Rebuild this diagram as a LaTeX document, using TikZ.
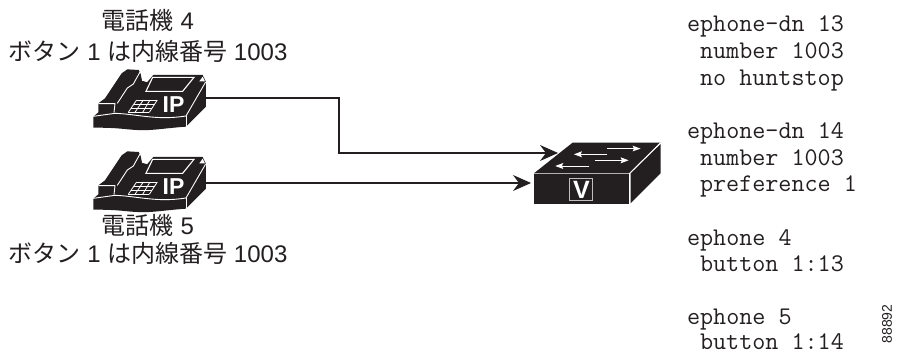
\documentclass[tikz,border=0pt]{standalone}
\usepackage{fontspec}
\setmainfont{Liberation Sans}
\newfontfamily\jpfont{Noto Sans CJK JP}
\usetikzlibrary{arrows.meta}
\definecolor{ink}{HTML}{231F20}
\newcommand{\jp}[1]{{\jpfont #1}}
\tikzset{
  every node/.style={inner sep=0pt,outer sep=0pt},
  lbl/.style={font=\fontsize{24}{26}\selectfont,text=ink,anchor=base},
  cfg/.style={font=\ttfamily\addfontfeature{FakeBold=0.35}\fontsize{25.4}{27}\selectfont,text=ink,anchor=base west},
  wire/.style={draw=ink,line width=1.1pt,-{Stealth[length=18pt,width=16pt,inset=6pt]}},
  wl/.style={draw=white,line width=.8pt},
  phone/.pic={
    \begin{scope}[x=.3333pt,y=-.3333pt]
      % silhouette
      \fill[ink] (160,170) -- (175,157) -- (175,130) -- (195,115) -- (245,40) -- (262,28) -- (296,30) -- (302,42) -- (306,62) -- (322,66) -- (340,45) -- (488,45) -- (498,66) -- (498,140) -- (438,200) .. controls (370,205) and (330,213) .. (290,210) .. controls (250,208) and (240,203) .. (160,203) -- cycle;
      % body edges
      \draw[white,line width=.9pt] (160,169) -- (225,160) .. controls (290,162) and (350,182) .. (438,168) -- (497,66);
      \draw[white,line width=.9pt] (438,168) -- (438,200);
      % cradle notches
      \fill[white] (306,62) -- (318,48) -- (322,66) -- cycle;
      \fill[white] (478,64) -- (488,50) -- (495,64) -- cycle;
      % handset
      \draw[white,line width=.9pt] (175,131) -- (225,131) -- (222,158);
      \draw[white,line width=.9pt] (232,130) -- (262,84) -- (280,72) -- (300,36);
      % screen
      \fill[ink,draw=white,line width=1.1pt] (338,52) -- (462,52) -- (428,94) -- (318,94) -- cycle;
      % keypad
      \draw[wl] (290,120) -- (352,120);
      \draw[wl] (282,132) -- (344,132);
      \draw[wl] (274,145) -- (336,145);
      \draw[wl] (265,157) -- (328,157);
      \draw[wl] (290,120) -- (265,157); \draw[wl] (310,120) -- (285,157); \draw[wl] (330,120) -- (308,157); \draw[wl] (352,120) -- (328,157);
    \end{scope}
    \node[font=\fontsize{23}{23}\selectfont\bfseries,text=white,anchor=base] at (133.5,52.5) {IP};
  }
}
\begin{document}
\begin{tikzpicture}[x=1pt,y=-1pt]
\useasboundingbox (0,0) rectangle (897,353);
% labels
\node[lbl] (t1) at (148,30) {\jp{電話機} 4};
\node[lbl] (t2) at (148,60) {\jp{ボタン} 1 \jp{は内線番号} 1003};
\node[lbl] (t3) at (148,234) {\jp{電話機} 5};
\node[lbl] (t4) at (148,262) {\jp{ボタン} 1 \jp{は内線番号} 1003};
% phones
\pic (pa) at (40,60) {phone};
\pic (pb) at (40,142) {phone};
\coordinate (porta) at (206,98);
\coordinate (portb) at (206,183);
% switch
\begin{scope}[x=.3333pt,y=-.3333pt,shift={(500*3,120*3)}]
  \fill[ink] (102,160) -- (218,68) -- (482,68) -- (388,160) -- cycle;
  \fill[ink] (102,161) rectangle (388,251);
  \fill[ink] (392,160) -- (482,72) -- (482,160) -- (392,250) -- cycle;
  \draw[white,line width=.8pt] (389,160) -- (482,68);
  \draw[white,line width=.8pt] (389,160) -- (389,251);
  \foreach \xa/\xb/\yy in {322/405/86, 322/225/103, 285/368/121, 268/170/138}{
    \draw[white,line width=.9pt] (\xa,\yy) -- (\xb,\yy);
  }
  \fill[white] (422,86) -- (398,77) -- (402,86) -- (398,94) -- cycle;
  \fill[white] (222,103) -- (246,94) -- (242,103) -- (246,112) -- cycle;
  \fill[white] (386,121) -- (362,112) -- (366,121) -- (362,130) -- cycle;
  \fill[white] (166,138) -- (190,129) -- (186,138) -- (190,147) -- cycle;
  \draw[lightgray,line width=1pt] (208,175) rectangle (278,243);
\end{scope}
\coordinate (vcenter) at (581.5,190);
\node[font=\fontsize{25}{25}\selectfont\bfseries,text=white,anchor=center] (vlabel) at (vcenter) {V};
\coordinate (swa) at (558,153);
\coordinate (swb) at (531,183);
\coordinate (bend1) at (339,98);
\coordinate (bend2) at (339,153);
\draw[wire] (porta) -- (bend1) -- (bend2) -- (swa);
\draw[wire] (portb) -- (swb);
% config text
\node[cfg] (c1) at (687,32) {ephone-dn 13};
\node[cfg] (c2) at (700,58.5) {number 1003};
\node[cfg] (c3) at (700,85) {no huntstop};
\node[cfg] (c4) at (687,138.5) {ephone-dn 14};
\node[cfg] (c5) at (700,165) {number 1003};
\node[cfg] (c6) at (700,191.5) {preference 1};
\node[cfg] (c7) at (687,245) {ephone 4};
\node[cfg] (c8) at (700,271.5) {button 1:13};
\node[cfg] (c9) at (687,324.5) {ephone 5};
\node[cfg] (c10) at (700,349.5) {button 1:14};
\node[font=\fontsize{14}{14}\selectfont,text=ink,rotate=90] (idn) at (887,324) {88892};
\end{tikzpicture}
\end{document}
